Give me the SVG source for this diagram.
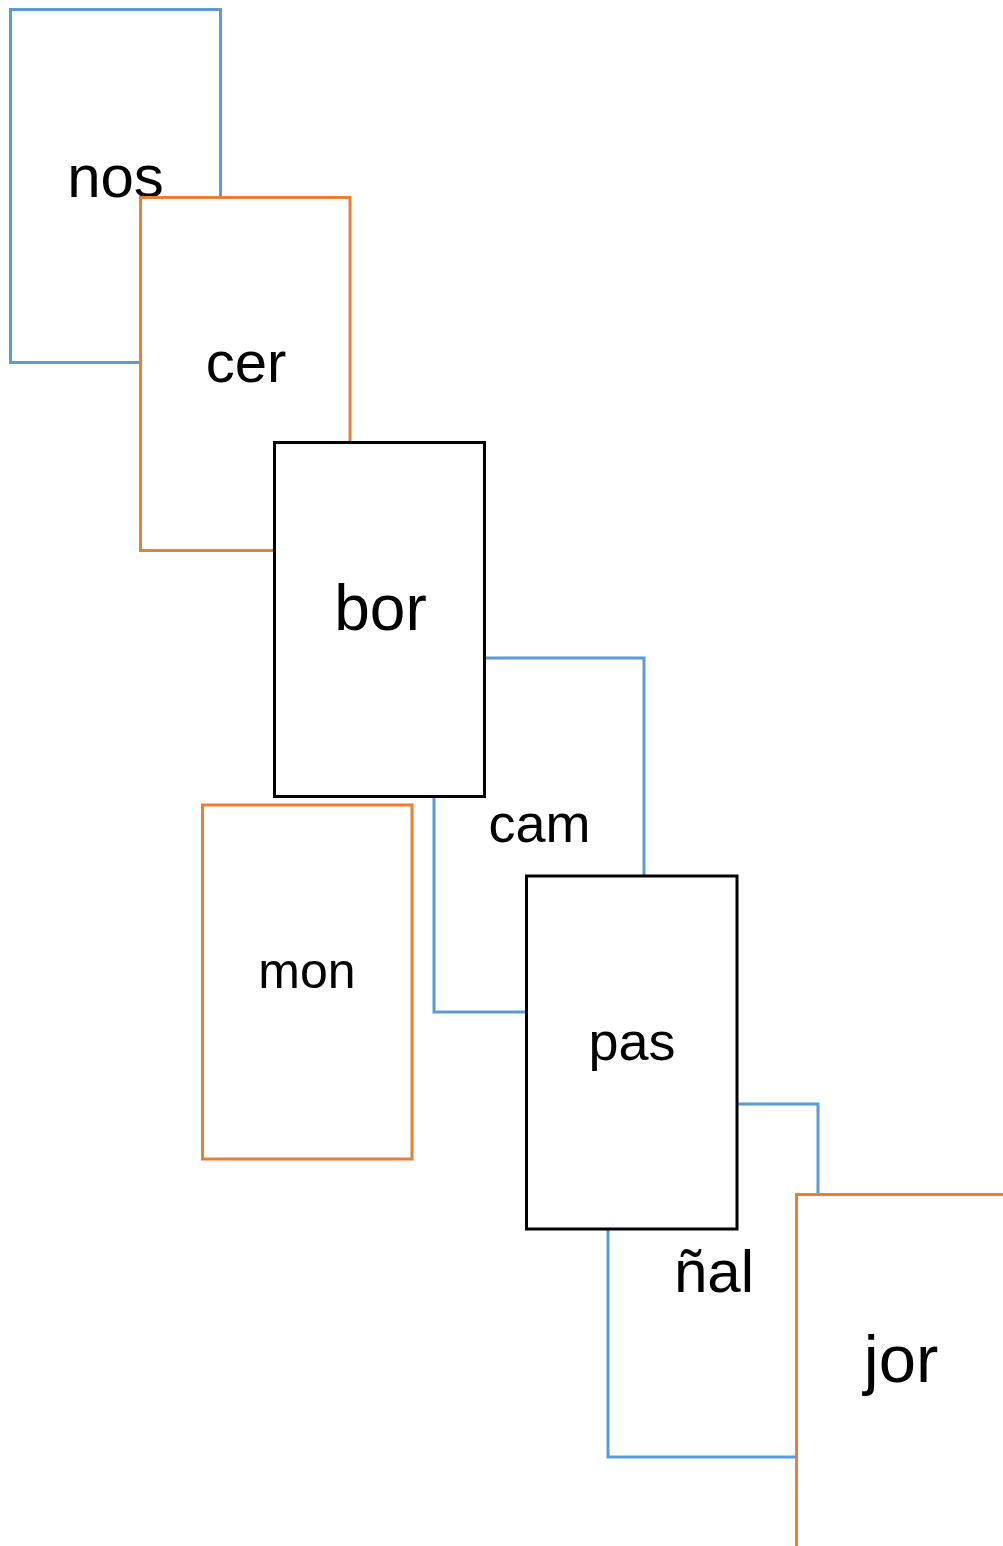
<svg xmlns="http://www.w3.org/2000/svg" width="1003" height="1546" viewBox="0 0 1003 1546">
<style>
.box{fill:#fff;stroke-width:3}
.blue{stroke:#5B9BD5}
.orange{stroke:#ED7D31}
.black{stroke:#000}
.lbl{font-family:"Century Gothic","URW Gothic","Liberation Sans",sans-serif;fill:#000;text-anchor:middle}
</style>
<rect width="1003" height="1546" fill="#fff"/>
<g id="connectors"/>
<g id="node-nos">
<rect class="box blue" x="10.5" y="9.5" width="210" height="353"/>
<text class="lbl" x="115.5" y="197" font-size="60">nos</text>
</g>
<g id="node-cer">
<rect class="box orange" x="140.5" y="197.5" width="209.5" height="353"/>
<text class="lbl" x="246" y="382" font-size="58">cer</text>
</g>
<g id="node-cam">
<rect class="box blue" x="434" y="658" width="210" height="354"/>
<text class="lbl" x="539.5" y="842" font-size="54">cam</text>
</g>
<g id="node-bor">
<rect class="box black" x="274.5" y="442.5" width="210" height="354"/>
<text class="lbl" x="380.5" y="630" font-size="64">bor</text>
</g>
<g id="node-mon">
<rect class="box orange" x="202.5" y="805" width="209.5" height="354"/>
<text class="lbl" x="307" y="988" font-size="50">mon</text>
</g>
<g id="node-nal">
<rect class="box blue" x="608" y="1104" width="210" height="353"/>
<text class="lbl" x="714" y="1292" font-size="60">ñal</text>
</g>
<g id="node-pas">
<rect class="box black" x="526.5" y="876" width="210.5" height="353"/>
<text class="lbl" x="632" y="1060" font-size="54">pas</text>
</g>
<g id="node-jor">
<rect class="box orange" x="796.5" y="1194.5" width="210" height="354"/>
<text class="lbl" x="901" y="1382" font-size="67">jor</text>
</g>
</svg>
